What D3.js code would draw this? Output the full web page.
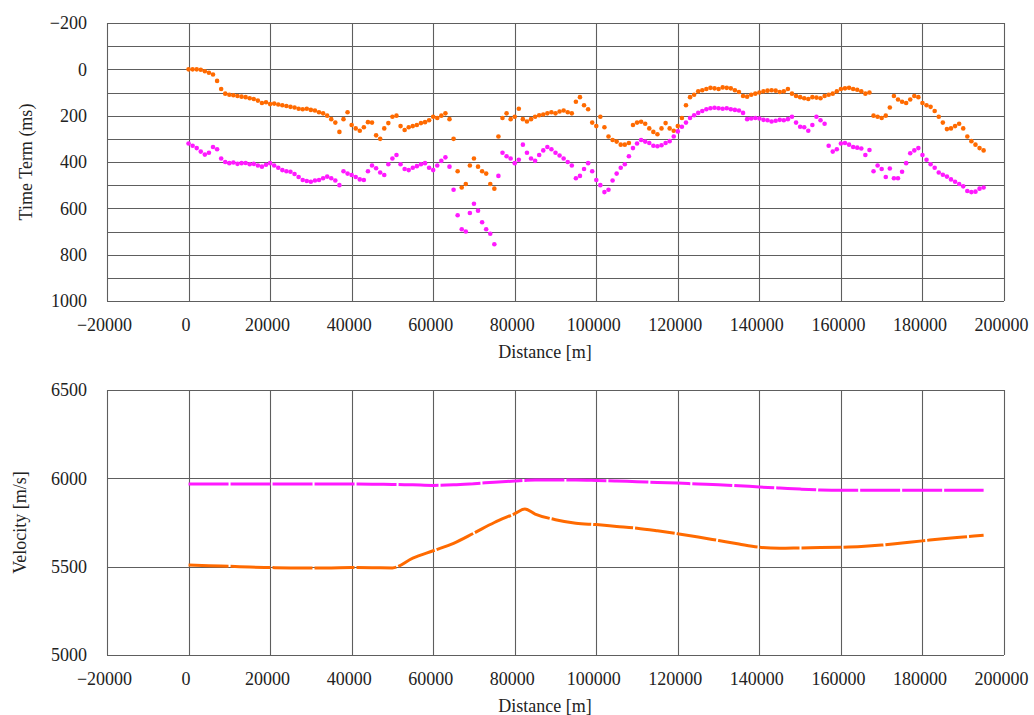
<!DOCTYPE html>
<html>
<head>
<meta charset="utf-8">
<script src="https://cdn.jsdelivr.net/npm/d3@7"></script>
<style>
  body { margin: 0; background: #fff; }
  text { font-family: "Liberation Serif", "DejaVu Serif", serif; fill: #222; }
</style>
</head>
<body>
<svg id="chart" width="1034" height="715"></svg>
<script>
// time term samples every 1000 m, from 0 to 195000 m
const ttStep = 1000;
const timeTermOrange = [
  0, 0, 0, 2, 8, 15, 22, 50, 85, 105,
  110, 112, 115, 118, 120, 125, 128, 135, 145, 142,
  150, 148, 152, 155, 158, 162, 165, 170, 172, 170,
  175, 178, 185, 190, 200, 215, 230, 270, 215, 185,
  240, 255, 265, 250, 228, 230, 285, 300, 255, 232,
  205, 200, 245, 262, 250, 245, 240, 232, 228, 220,
  205, 210, 200, 190, 215, 300, 440, 510, 495, 415,
  385, 420, 440, 450, 495, 515, 290, 210, 190, 215,
  205, 170, 215, 225, 215, 205, 198, 195, 190, 185,
  190, 182, 178, 185, 190, 140, 120, 155, 172, 230,
  245, 205, 250, 290, 305, 312, 325, 325, 318, 240,
  230, 226, 235, 255, 270, 280, 255, 232, 255, 265,
  245, 210, 155, 120, 110, 95, 90, 85, 80, 82,
  85, 78, 80, 82, 90, 98, 115, 118, 110, 105,
  100, 95, 92, 90, 92, 98, 95, 85, 105, 115,
  120, 125, 128, 120, 122, 125, 115, 110, 105, 95,
  85, 82, 80, 85, 88, 95, 105, 100, 200, 205,
  210, 200, 165, 115, 130, 140, 145, 130, 115, 120,
  145, 155, 162, 180, 205, 230, 258, 255, 245, 235,
  255, 290, 310, 325, 340, 350
];
const timeTermMagenta = [
  320, 330, 340, 355, 368, 360, 335, 345, 385, 400,
  405, 402, 408, 405, 404, 410, 408, 415, 420, 412,
  405, 415, 425, 435, 440, 442, 452, 465, 478, 482,
  485, 480, 478, 470, 463, 470, 480, 500, 440, 450,
  456, 465, 475, 478, 440, 415, 427, 445, 456, 410,
  385, 370, 410, 430, 435, 425, 418, 410, 405, 425,
  435, 415, 395, 380, 420, 520, 630, 690, 700, 620,
  580, 610, 660, 690, 710, 755, 460, 360, 375, 385,
  405, 390, 325, 360, 385, 395, 370, 350, 335, 345,
  360, 372, 385, 400, 415, 470, 460, 430, 405, 440,
  478, 500, 530, 520, 480, 450, 425, 410, 375, 340,
  320, 305, 312, 318, 330, 332, 328, 318, 310, 290,
  268, 248, 230, 210, 198, 188, 180, 172, 168, 166,
  168, 170, 168, 172, 175, 178, 188, 215, 212, 210,
  212, 218, 220, 225, 222, 218, 220, 215, 205, 230,
  248, 250, 265, 240, 205, 220, 235, 330, 355, 345,
  320, 318, 325, 335, 338, 342, 370, 348, 440, 415,
  430, 465, 428, 470, 470, 442, 405, 362, 350, 340,
  370, 390, 410, 425, 445, 455, 463, 475, 485, 495,
  505, 525, 530, 528, 515, 510
];

// velocity profile
const velDist = [
  0, 5000, 10000, 15000, 20000, 25000, 30000, 35000, 40000, 45000,
  50000, 55000, 60000, 65000, 70000, 75000, 80000, 82500, 85000, 90000,
  95000, 100000, 105000, 110000, 115000, 120000, 125000, 130000, 135000, 140000,
  145000, 150000, 155000, 160000, 165000, 170000, 175000, 180000, 185000, 190000,
  195000
];
const velOrange = [
  5510, 5505, 5502, 5498, 5495, 5493, 5492, 5493, 5495, 5494,
  5493, 5548, 5590, 5632, 5690, 5750, 5800, 5826, 5798, 5766,
  5746, 5738, 5728, 5718, 5703, 5686, 5668, 5648, 5628, 5610,
  5604, 5606, 5608, 5610, 5614, 5622, 5634, 5646, 5658, 5668,
  5678
];
const velMagenta = [
  5968, 5968, 5968, 5968, 5968, 5968, 5968, 5968, 5968, 5967,
  5965, 5963, 5960, 5963, 5970, 5978, 5985, 5988, 5990, 5990,
  5990, 5988, 5985, 5981, 5977, 5973, 5968, 5964, 5958, 5951,
  5945, 5939, 5934, 5932, 5932, 5932, 5932, 5932, 5932, 5932,
  5932
];

const xTicks = [-20000, 0, 20000, 40000, 60000, 80000, 100000, 120000, 140000, 160000, 180000, 200000];
const ttGrid = [-200, -100, 0, 100, 200, 300, 400, 500, 600, 700, 800, 900, 1000];
const ttLabels = [-200, 0, 200, 400, 600, 800, 1000];
const velTicks = [5000, 5500, 6000, 6500];

const ORANGE = '#ff6a00';
const MAGENTA = '#ff19ff';
const GRID = '#5e5e5e';

const svg = d3.select('#chart');
const left = 107, right = 1004;

function drawFrame(g, x, y, yGrid, yLabels, yTitle, titleX, bottom) {
  const [y0, y1] = y.range();
  const top = Math.min(y0, y1), bot = Math.max(y0, y1);

  g.append('g').selectAll('line.h')
    .data(yGrid)
    .enter()
    .append('line')
    .attr('x1', left).attr('x2', right)
    .attr('y1', d => Math.round(y(d)) + 0.5)
    .attr('y2', d => Math.round(y(d)) + 0.5)
    .attr('stroke', GRID)
    .attr('stroke-width', 1.1);

  g.append('g').selectAll('line.v')
    .data(xTicks)
    .enter()
    .append('line')
    .attr('x1', d => Math.round(x(d)) + 0.5)
    .attr('x2', d => Math.round(x(d)) + 0.5)
    .attr('y1', top).attr('y2', bot)
    .attr('stroke', GRID)
    .attr('stroke-width', 1.1);

  // y tick labels
  g.append('g')
    .attr('transform', `translate(${left},0)`)
    .call(d3.axisLeft(y).tickValues(yLabels).tickSize(0).tickPadding(20).tickFormat(d3.format('')))
    .call(a => a.select('.domain').remove())
    .selectAll('text')
    .style('font-family', '"Liberation Serif", serif')
    .style('font-size', '18px')
    .attr('fill', '#222');

  // x tick labels
  g.append('g')
    .attr('transform', `translate(-3,${bot})`)
    .call(d3.axisBottom(x).tickValues(xTicks).tickSize(0).tickPadding(17).tickFormat(d3.format('')))
    .call(a => a.select('.domain').remove())
    .selectAll('text')
    .style('font-family', '"Liberation Serif", serif')
    .style('font-size', '18px')
    .attr('fill', '#222');

  g.append('text')
    .attr('x', 545)
    .attr('y', bottom)
    .attr('text-anchor', 'middle')
    .style('font-size', '18px')
    .text('Distance [m]');

  g.append('text')
    .attr('transform', `translate(${titleX},${(top + bot) / 2}) rotate(-90)`)
    .attr('text-anchor', 'middle')
    .attr('dy', '0.35em')
    .style('font-size', '18px')
    .text(yTitle);
}

// top: time term
const x = d3.scaleLinear().domain([-20000, 200000]).range([left, right]);
const yTT = d3.scaleLinear().domain([-200, 1000]).range([23, 301]);

const gTop = svg.append('g');
drawFrame(gTop, x, yTT, ttGrid, ttLabels, 'Time Term (ms)', 26, 358);

[[timeTermOrange, ORANGE], [timeTermMagenta, MAGENTA]].forEach(([vals, color]) => {
  gTop.append('g').selectAll('circle')
    .data(vals.map((v, i) => [i * ttStep, v]).filter(d => d[1] != null))
    .enter()
    .append('circle')
    .attr('cx', d => x(d[0]))
    .attr('cy', d => yTT(d[1]))
    .attr('r', 2.3)
    .attr('fill', color);
});

// bottom: velocity
const yV = d3.scaleLinear().domain([5000, 6500]).range([655, 390]);
const gBot = svg.append('g');
drawFrame(gBot, x, yV, velTicks, velTicks, 'Velocity [m/s]', 20, 712);

const line = d3.line()
  .x(d => x(d[0]))
  .y(d => yV(d[1]))
  .curve(d3.curveMonotoneX);

[[velOrange, ORANGE], [velMagenta, MAGENTA]].forEach(([vals, color]) => {
  gBot.append('path')
    .datum(velDist.map((d, i) => [d, vals[i]]))
    .attr('d', line)
    .attr('fill', 'none')
    .attr('stroke', color)
    .attr('stroke-width', 3)
    .attr('stroke-dasharray', '40,2');
});
</script>
</body>
</html>
